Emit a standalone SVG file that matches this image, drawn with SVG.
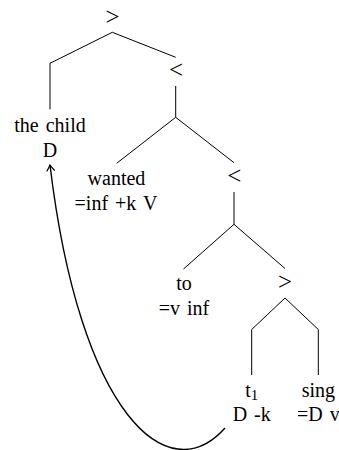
<svg xmlns="http://www.w3.org/2000/svg" width="339" height="450" viewBox="0 0 339 450">
<style>
text{font-family:"Liberation Serif","Times New Roman",serif;font-size:20px;fill:#000;text-anchor:middle;word-spacing:2px}
text.op{font-size:25px}
.br{fill:none;stroke:#000;stroke-width:1}
.mv{fill:none;stroke:#000;stroke-width:1.4}
</style>
<defs>
<marker id="ah" viewBox="-8 -5 10 10" markerWidth="10" markerHeight="10" refX="0" refY="0" orient="auto" markerUnits="userSpaceOnUse">
<path d="M-6,-4 Q-2,-1 0,0 Q-2,1 -6,4" fill="none" stroke="#000" stroke-width="1.2"/>
</marker>
</defs>
<g id="connectors">
<polyline class="br" points="112.3,32.3 50,63.3 50,109.3"/>
<line class="br" x1="112.3" y1="32.3" x2="175.7" y2="57.3"/>
<line class="br" x1="175.7" y1="86" x2="175.7" y2="117.3"/>
<line class="br" x1="175.7" y1="117.3" x2="116.7" y2="163.3"/>
<line class="br" x1="175.7" y1="117.3" x2="234" y2="162.7"/>
<line class="br" x1="234" y1="192" x2="234" y2="224.3"/>
<line class="br" x1="234" y1="224.3" x2="183.5" y2="269"/>
<line class="br" x1="234" y1="224.3" x2="285" y2="268.5"/>
<polyline class="br" points="251.7,375 251.7,329.5 285,298 318.3,329.5 318.3,375"/>
<path class="mv" d="M225,428 C168,492 80,415 50,165" marker-end="url(#ah)"/>
</g>
<g id="n-root"><text class="op" x="112.5" y="25">&gt;</text></g>
<g id="n-lt1"><text class="op" x="176" y="78.3">&lt;</text></g>
<g id="n-thechild"><text x="50" y="131.7">the child</text><text x="50" y="156.7">D</text></g>
<g id="n-wanted"><text x="116.5" y="185">wanted</text><text x="116" y="209.5">=inf +k V</text></g>
<g id="n-lt2"><text class="op" x="234.3" y="184">&lt;</text></g>
<g id="n-to"><text x="184" y="290">to</text><text x="184" y="314.5">=v inf</text></g>
<g id="n-gt2"><text class="op" x="285" y="290">&gt;</text></g>
<g id="n-t1"><text x="251.7" y="397">t<tspan font-size="15" dy="3">1</tspan></text><text x="251.7" y="421">D -k</text></g>
<g id="n-sing"><text x="318.3" y="397">sing</text><text x="318.3" y="421">=D v</text></g>
</svg>
